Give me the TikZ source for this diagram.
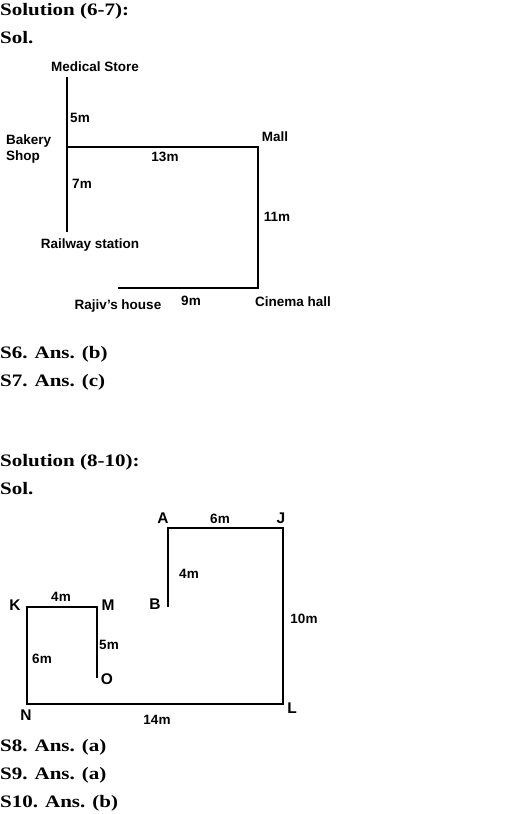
\documentclass[tikz,border=0pt]{standalone}
\usepackage{fontspec}
\setmainfont{Liberation Serif}
\setsansfont{Liberation Sans}
\newfontfamily\headfont[FakeStretch=1.2]{Liberation Serif}
\begin{document}
\begin{tikzpicture}[x=1pt, y=-1pt]
    % Define node styles
    \tikzstyle{head}=[anchor=west, inner sep=0pt, font=\headfont\bfseries\fontsize{17.5}{20}\selectfont]
    \tikzstyle{lbl}=[inner sep=0pt, font=\sffamily\bfseries\fontsize{13.5}{15.5}\selectfont]
    \tikzstyle{ptlbl}=[inner sep=0pt, font=\sffamily\bfseries\fontsize{15.5}{17}\selectfont]
    \tikzstyle{road}=[line width=1.8pt]
    \tikzstyle{wall}=[line width=2.8pt, line cap=rect, line join=miter]
    \useasboundingbox (0, 0) rectangle (518, 814);
    
    % Headings of the first solution
    \node[head] (h1) at (0, 11) {Solution (6-7):};
    \node[head] (h2) at (0, 38) {Sol.};
    
    % First map: points
    \coordinate (med) at (67, 77);
    \coordinate (bak) at (67, 147);
    \coordinate (rail) at (67, 232);
    \coordinate (mall) at (258, 147);
    \coordinate (cin) at (258, 288);
    \coordinate (raj) at (118, 288);
    
    % First map: roads
    \draw[road] (med) -- (rail);
    \draw[road] (bak) -- (mall) -- (cin) -- (raj);
    
    % First map: labels
    \node[lbl] (lmed) at (95, 67) {Medical Store};
    \node[lbl] (l5m) at (80, 118) {5m};
    \node[lbl, align=left, anchor=west] (lbak) at (6, 149) {Bakery\\Shop};
    \node[lbl] (l13m) at (165, 157) {13m};
    \node[lbl] (lmall) at (275, 137) {Mall};
    \node[lbl] (l7m) at (82, 184) {7m};
    \node[lbl] (l11m) at (277, 217) {11m};
    \node[lbl] (lrail) at (90, 245) {Railway station};
    \node[lbl] (lraj) at (118, 306) {Rajiv's house};
    \node[lbl] (l9m) at (191, 301) {9m};
    \node[lbl] (lcin) at (293, 302) {Cinema hall};
    
    % Answers of the first solution
    \node[head] (a6) at (0, 354) {S6. Ans. (b)};
    \node[head] (a7) at (0, 382) {S7. Ans. (c)};
    
    % Headings of the second solution
    \node[head] (h3) at (0, 462) {Solution (8-10):};
    \node[head] (h4) at (0, 489) {Sol.};
    
    % Second map: points
    \coordinate (B) at (168, 606);
    \coordinate (A) at (168, 528);
    \coordinate (J) at (283, 528);
    \coordinate (L) at (283, 704);
    \coordinate (N) at (27, 704);
    \coordinate (K) at (27, 607);
    \coordinate (M) at (97, 607);
    \coordinate (O) at (97, 677);
    
    % Second map: path
    \draw[wall] (B) -- (A) -- (J) -- (L) -- (N) -- (K) -- (M) -- (O);
    
    % Second map: labels
    \node[ptlbl] (lA) at (163, 518) {A};
    \node[lbl] (l6m) at (220, 519) {6m};
    \node[ptlbl] (lJ) at (281, 518) {J};
    \node[lbl] (l4ma) at (189, 574) {4m};
    \node[ptlbl] (lB) at (155, 604) {B};
    \node[ptlbl] (lK) at (15, 605) {K};
    \node[lbl] (l4mb) at (61, 597) {4m};
    \node[ptlbl] (lM) at (108, 605) {M};
    \node[lbl] (l10m) at (304, 619) {10m};
    \node[lbl] (l5mb) at (109, 645) {5m};
    \node[lbl] (l6mb) at (42, 659) {6m};
    \node[ptlbl] (lO) at (107, 679) {O};
    \node[ptlbl] (lN) at (26, 715) {N};
    \node[ptlbl] (lL) at (292, 708) {L};
    \node[lbl] (l14m) at (157, 720) {14m};
    
    % Answers of the second solution
    \node[head] (a8) at (0, 747) {S8. Ans. (a)};
    \node[head] (a9) at (0, 775) {S9. Ans. (a)};
    \node[head] (a10) at (0, 803) {S10. Ans. (b)};
    
\end{tikzpicture}
\end{document}
